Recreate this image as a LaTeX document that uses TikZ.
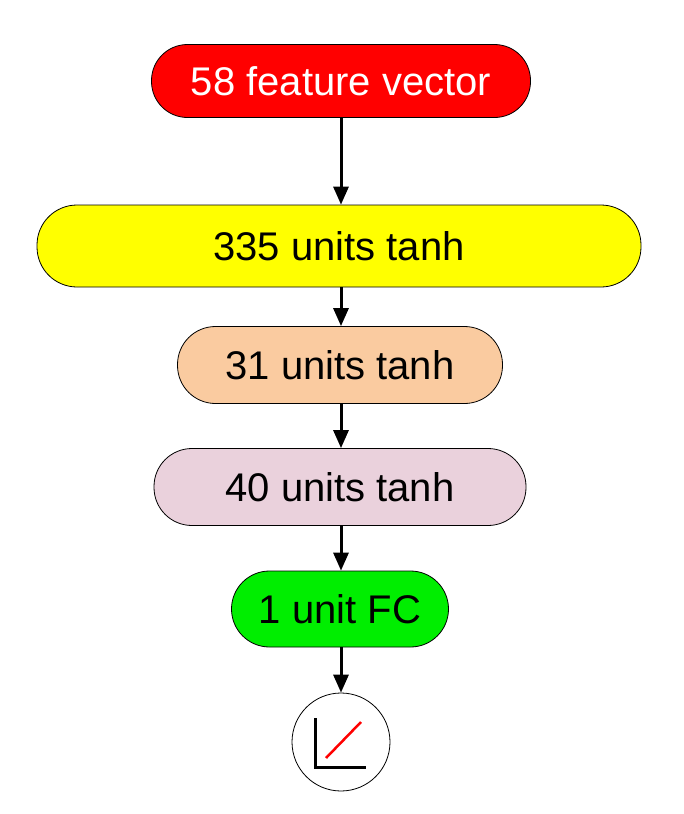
\documentclass[tikz,border=0pt]{standalone}
\usepackage{fontspec}
\setmainfont{Liberation Sans}
\usetikzlibrary{arrows.meta}
\begin{document}
\begin{tikzpicture}[x=1pt,y=-1pt,
  box/.style={draw=black,line width=0.8pt,rounded corners=36pt,font=\fontsize{40}{44}\selectfont,anchor=center,inner sep=0pt},
  arr/.style={line width=3pt,-{Triangle[length=18pt,width=15pt]}}]
\useasboundingbox (0,0) rectangle (683,814);
\node[box,fill={rgb,255:red,255;green,0;blue,0},text=white,minimum width=379pt,minimum height=73pt] (a) at (341,81) {58 feature vector};
\node[box,fill={rgb,255:red,255;green,255;blue,0},minimum width=604pt,minimum height=82pt,rounded corners=40pt] (b) at (339,246) {335 units tanh};
\node[box,fill={rgb,255:red,250;green,203;blue,160},minimum width=325pt,minimum height=77pt,rounded corners=38pt] (c) at (340,365) {31 units tanh};
\node[box,fill={rgb,255:red,234;green,209;blue,220},minimum width=372pt,minimum height=77pt,rounded corners=38pt] (d) at (340,487) {40 units tanh};
\node[box,fill={rgb,255:red,0;green,238;blue,0},minimum width=217pt,minimum height=76pt,rounded corners=38pt] (e) at (340,609) {1 unit FC};
\node[draw=black,line width=0.8pt,circle,minimum size=98pt,inner sep=0pt] (f) at (341,742) {};
\draw[arr] (a.south) -- (a.south |- b.north);
\draw[arr] (a.south |- b.south) -- (a.south |- c.north);
\draw[arr] (a.south |- c.south) -- (a.south |- d.north);
\draw[arr] (a.south |- d.south) -- (a.south |- e.north);
\draw[arr] (a.south |- e.south) -- (f.north);
\coordinate (p1) at (315,718); \coordinate (p2) at (315,767); \coordinate (p3) at (366,767);
\draw[line width=3pt] (p1) -- (p2) -- (p3);
\coordinate (q1) at (326,758); \coordinate (q2) at (361,722);
\draw[line width=2.5pt,red] (q1) -- (q2);
\end{tikzpicture}
\end{document}
